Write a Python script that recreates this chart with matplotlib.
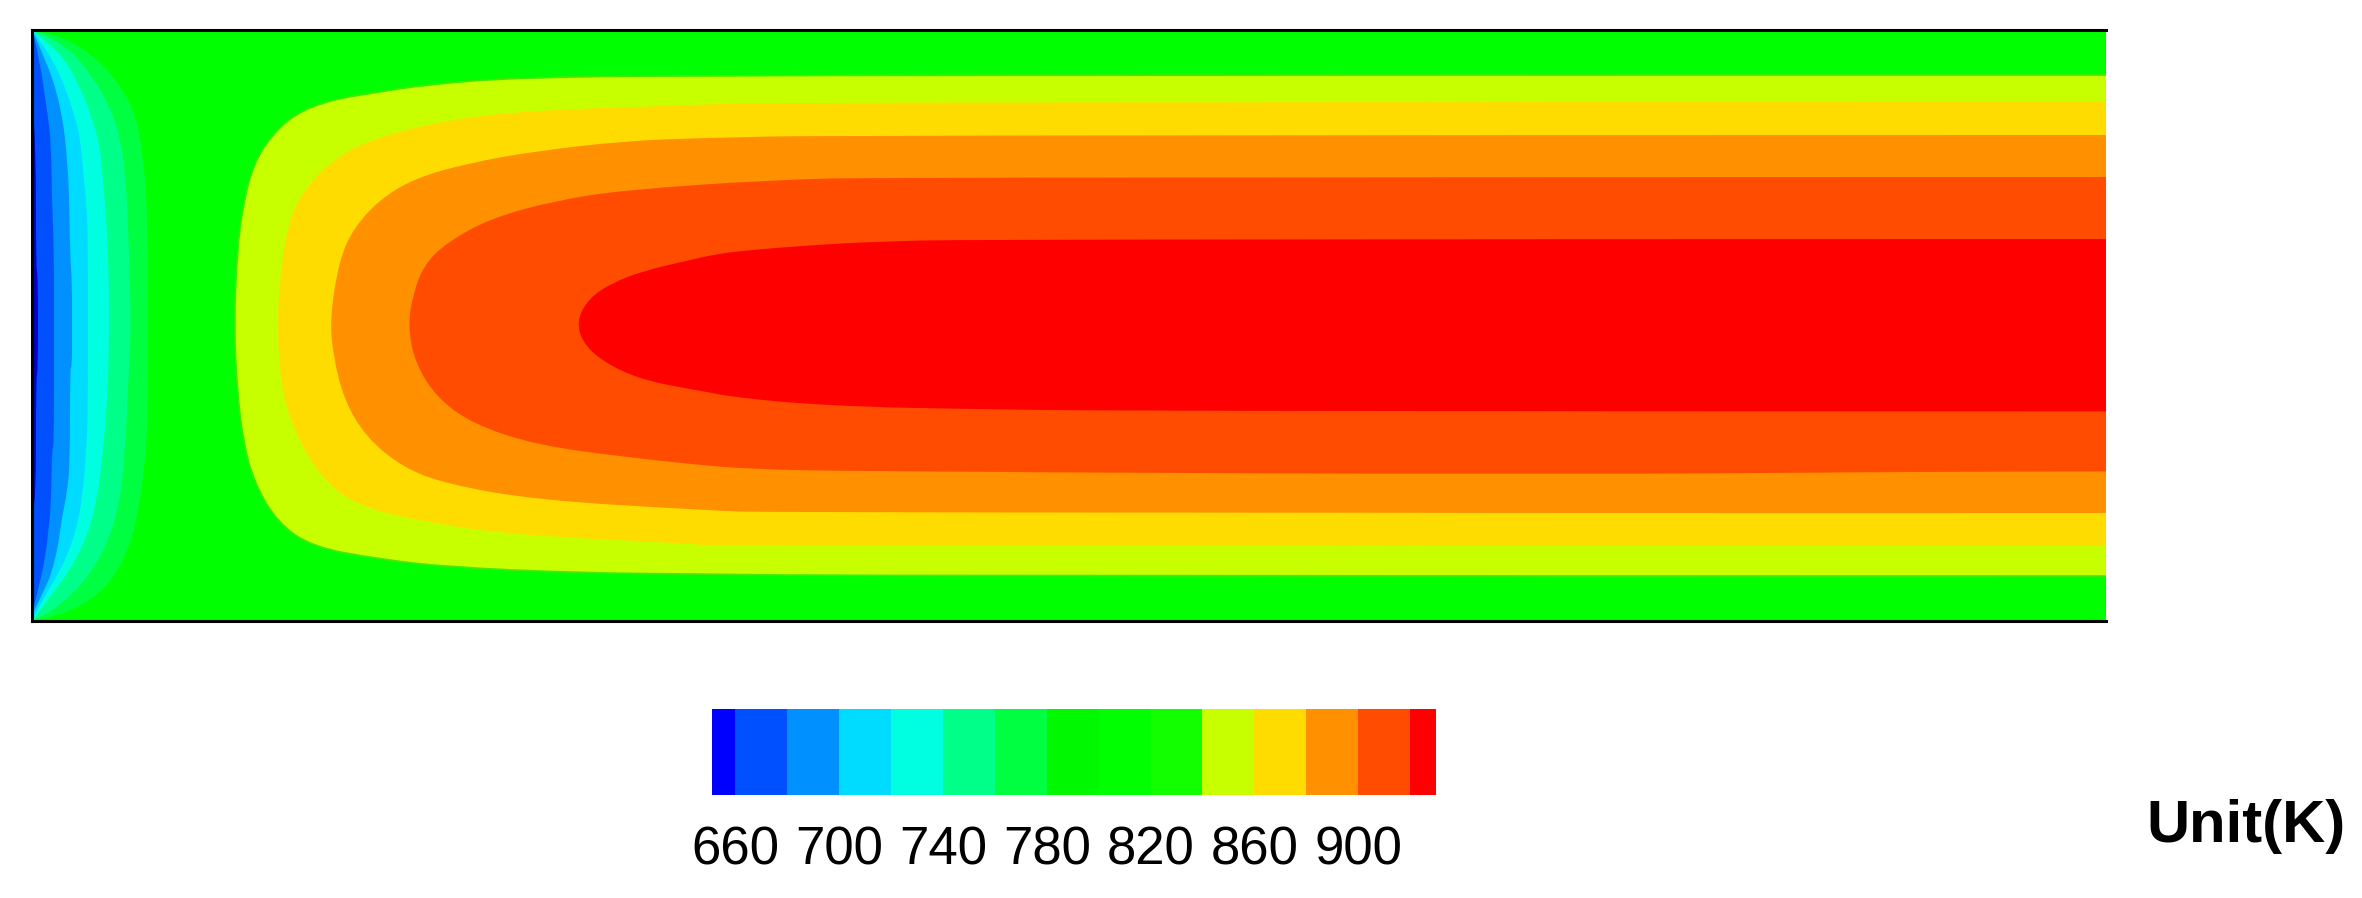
"""
Temperature contour of the channel section with a discrete colour bar.
Contour outlines are read off the picture, in picture pixels.
"""
import numpy as np
import matplotlib
matplotlib.use("Agg")
import matplotlib.pyplot as plt
from matplotlib.colors import BoundaryNorm, ListedColormap
from matplotlib.patches import PathPatch
from matplotlib.path import Path

W, H = 2362, 898

# colour bar
bar_levels = [651, 660, 680, 700, 720, 740, 760, 780, 800, 820, 840, 860, 880, 900, 920, 930]
bar_colors = ["#0000ff", "#0050ff", "#0090ff", "#00dcff", "#00ffe0", "#00ff88", "#00ff40",
              "#00f800", "#00ff00", "#12ff00", "#c8ff00", "#ffdc00", "#ff9000", "#ff4c00", "#ff0000"]
bar_ticks = [660, 700, 740, 780, 820, 860, 900]

# hot side contours, top right -> nose -> bottom right
c860_x = [2106, 1250, 700, 513, 424, 379, 330, 295, 272, 254, 243, 237, 234, 237, 243, 254, 277, 312, 379, 446, 580, 700, 862, 2106]
c860_y = [75, 75, 75.5, 77.5, 85, 92, 100, 114, 135, 163, 204, 253, 326, 388, 441, 482, 522, 547, 559, 567, 573, 574, 576, 576]

c880_x = [2106, 764, 700, 536, 446, 379, 339, 308, 290, 281, 277, 281, 295, 321, 357, 424, 513, 700, 702, 2106]
c880_y = [102, 102, 105, 110, 120, 137, 155, 184, 216, 265, 326, 388, 433, 478, 506, 522, 535, 544, 546, 546]

c900_x = [2106, 844, 699, 625, 536, 469, 415, 379, 353, 339, 330, 333, 344, 366, 402, 446, 536, 700, 777, 2106]
c900_y = [135, 135, 138, 141, 151, 163, 178, 200, 229, 261, 318, 355, 400, 437, 467, 484, 500, 510, 513, 513]

c920_x = [2106, 892, 768, 625, 558, 491, 446, 424, 413, 408, 415, 437, 473, 536, 625, 700, 744, 838, 1558, 1957, 2106]
c920_y = [177, 177, 180, 190, 200, 218, 243, 265, 294, 326, 363, 398, 424, 445, 457, 465, 468.6, 471.4, 474.7, 471.4, 471.4]

c930_x = [2106, 977, 867, 816, 775, 741, 717, 690, 643, 612, 589, 576, 585, 612, 647, 690, 712, 728, 762, 796, 846, 930, 1163, 2106]
c930_y = [239, 239, 242, 245, 248, 251, 254, 260, 271, 283, 298, 322, 347, 367, 381, 389, 393, 396, 400, 403, 406, 408.6, 411.4, 411.4]

# cold side contours, top left corner -> bulge -> bottom left corner
c780_x = [33, 53, 87, 117, 135, 143, 148, 148, 148, 145, 137, 127, 110, 87, 53, 33]
c780_y = [31, 33, 50, 80, 113, 153, 220, 330, 420, 463, 520, 553, 583, 603, 618, 620]

c760_x = [33, 43, 70, 93, 110, 120, 125, 128, 130, 131, 128, 125, 120, 110, 93, 70, 43, 33]
c760_y = [31, 33, 50, 77, 107, 137, 170, 220, 287, 330, 387, 453, 500, 537, 570, 597, 617, 620]

c740_x = [33, 38, 60, 77, 92, 100, 103, 107, 109, 109, 108, 103, 97, 87, 70, 53, 37, 33]
c740_y = [31, 35, 53, 80, 117, 147, 180, 227, 287, 330, 390, 453, 500, 537, 570, 593, 615, 620]

c720_x = [33, 37, 53, 65, 75, 80, 83, 87, 88, 88, 88, 87, 82, 77, 67, 53, 35, 33]
c720_y = [31, 37, 60, 87, 117, 137, 170, 207, 253, 330, 387, 447, 500, 527, 557, 583, 613, 620]

c700_x = [33, 47, 57, 62, 65, 67, 69, 70, 72, 72, 72, 70, 70, 67, 62, 58, 53, 48, 33]
c700_y = [32, 63, 93, 117, 137, 160, 188, 253, 283, 330, 367, 368, 463, 493, 517, 547, 567, 583, 613]

c680_x = [33, 40, 45, 48, 51, 52, 54, 54, 54, 52, 51, 48, 46, 40, 33]
c680_y = [32, 63, 97, 117, 143, 200, 253, 330, 447, 448, 507, 533, 552, 583, 610]

c660_x = [33, 36, 36, 38, 38, 36, 36, 33]
c660_y = [110, 143, 270, 273, 373, 375, 505, 510]

hot_contours = [(c860_x, c860_y, "#c8ff00"), (c880_x, c880_y, "#ffdc00"), (c900_x, c900_y, "#ff9000"),
                (c920_x, c920_y, "#ff4c00"), (c930_x, c930_y, "#ff0000")]
cold_contours = [(c780_x, c780_y, "#00ff40"), (c760_x, c760_y, "#00ff88"), (c740_x, c740_y, "#00ffe0"),
                 (c720_x, c720_y, "#00dcff"), (c700_x, c700_y, "#0090ff"), (c680_x, c680_y, "#0050ff"),
                 (c660_x, c660_y, "#0000c8")]


def add_axes_px(fig, left, top, right, bottom):
    return fig.add_axes([left / W, 1 - bottom / H, (right - left) / W, (bottom - top) / H])


def contour_path(xs, ys, closed=True):
    # read points act as quadratic control points, so the outline stays round
    pts = np.column_stack([xs, ys]).astype(float)
    verts, codes = [pts[0]], [Path.MOVETO]
    for i in range(1, len(pts) - 1):
        end = (pts[i] + pts[i + 1]) / 2 if i < len(pts) - 2 else pts[i + 1]
        verts += [pts[i], end]
        codes += [Path.CURVE3, Path.CURVE3]
    if closed:
        verts.append(pts[0])
        codes.append(Path.CLOSEPOLY)
    return Path(verts, codes)


plt.rcParams["font.family"] = ["Liberation Sans"]
fig = plt.figure(figsize=(W / 100, H / 100), dpi=100, facecolor="white")

# main field
ax = add_axes_px(fig, 32, 30, 2106, 621)
ax.set_xlim(32, 2106)
ax.set_ylim(621, 30)
ax.set_facecolor("#00ff00")
ax.set_xticks([])
ax.set_yticks([])
ax.spines["right"].set_visible(False)
for side in ["top", "left", "bottom"]:
    ax.spines[side].set_linewidth(2.2)
    ax.spines[side].set_color("black")

for xs, ys, color in hot_contours + cold_contours:
    ax.add_patch(PathPatch(contour_path(xs, ys), facecolor=color, edgecolor="none"))
# the soft green rim outside the 860 contour
ax.add_patch(PathPatch(contour_path(c860_x, c860_y, closed=False), facecolor="none",
                       edgecolor="#48e800", linewidth=1.2))

# colour bar
cax = add_axes_px(fig, 712, 709, 1436, 795)
cmap = ListedColormap(bar_colors)
norm = BoundaryNorm(bar_levels, cmap.N)
mids = (np.array(bar_levels[:-1]) + np.array(bar_levels[1:])) / 2
cax.pcolormesh(bar_levels, [0, 1], mids.reshape(1, -1), cmap=cmap, norm=norm)
cax.set_yticks([])
cax.set_xticks(bar_ticks)
cax.set_xticklabels([str(t) for t in bar_ticks], fontsize=38)
cax.tick_params(axis="x", length=0, pad=22)
for spine in cax.spines.values():
    spine.set_visible(False)

fig.text(2146 / W, 1 - 842 / H, "Unit(K)", fontsize=43, fontweight="bold", ha="left", va="baseline")

fig.savefig("out.png", dpi=100)
